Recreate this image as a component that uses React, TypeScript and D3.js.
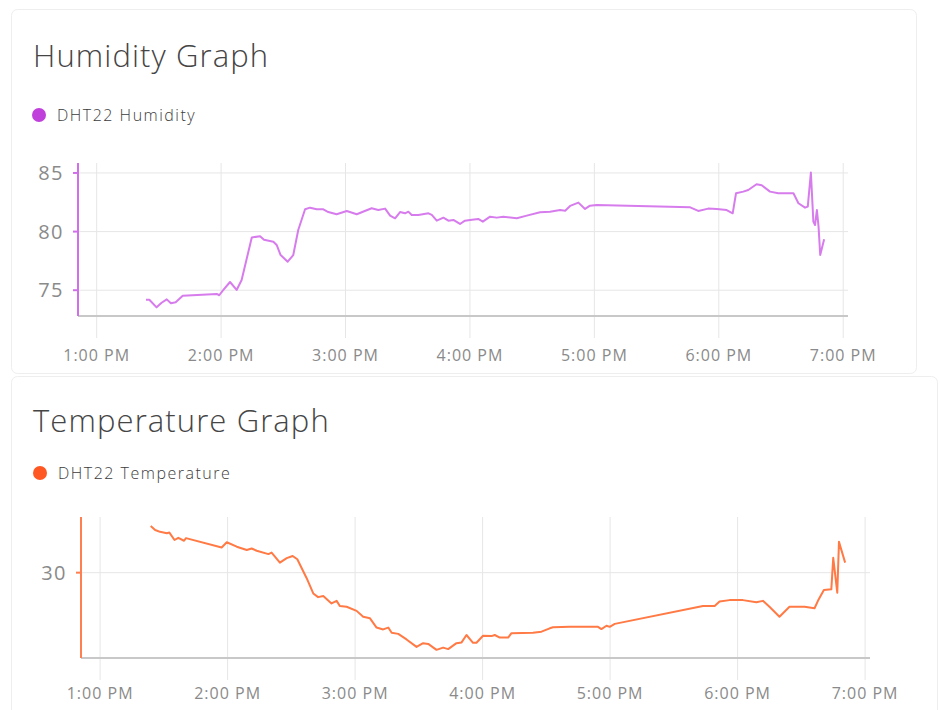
import React, { useRef, useEffect } from 'react';
import * as d3 from 'd3';

// minutes after 1:00 PM
const humidityMinutes = [23.8, 25.4, 28.9, 31.3, 33.8, 35.8, 38.1, 41.5, 57.9, 59.1, 61.1, 64.3, 67.5, 69.9, 74.8, 78.8, 80.7, 85.2, 86.8, 88.7, 92.1, 94.8, 97.2, 100.5, 102.9, 106.1, 109.3, 111.7, 115.7, 120.6, 125.4, 132.6, 135.8, 139.1, 141.5, 143.9, 146.3, 148.7, 150.3, 151.9, 155.1, 160.0, 161.6, 164.0, 167.2, 169.6, 172.0, 175.2, 177.6, 180.0, 184.0, 186.2, 189.7, 192.9, 196.1, 202.6, 207.4, 213.8, 218.6, 223.5, 225.9, 228.3, 232.3, 235.5, 237.9, 241.1, 286.2, 290.1, 294.9, 299.0, 303.8, 306.7, 308.3, 311.8, 314.2, 318.2, 320.7, 324.7, 328.7, 336.0, 338.4, 341.6, 342.9, 344.4, 345.6, 346.4, 347.3, 348.1, 348.9, 350.8];
const humidityValues = [74.19, 74.19, 73.54, 73.93, 74.22, 73.88, 73.97, 74.53, 74.68, 74.57, 75.02, 75.7, 75.02, 75.87, 79.5, 79.6, 79.3, 79.14, 78.86, 78.0, 77.43, 78.0, 80.14, 81.9, 82.04, 81.9, 81.9, 81.67, 81.48, 81.76, 81.48, 81.99, 81.84, 81.96, 81.36, 81.13, 81.67, 81.56, 81.7, 81.42, 81.42, 81.56, 81.42, 80.93, 81.19, 80.93, 80.99, 80.65, 80.93, 80.99, 81.08, 80.85, 81.27, 81.19, 81.27, 81.13, 81.36, 81.65, 81.7, 81.84, 81.78, 82.19, 82.47, 81.93, 82.21, 82.27, 82.07, 81.76, 81.96, 81.93, 81.84, 81.56, 83.27, 83.41, 83.55, 84.04, 83.95, 83.41, 83.27, 83.27, 82.42, 82.04, 82.13, 85.03, 80.85, 80.56, 81.84, 80.42, 78.0, 79.34];

const temperatureMinutes = [23.8, 25.9, 28.2, 31.4, 32.6, 35.0, 36.8, 39.5, 40.4, 57.2, 59.6, 64.3, 69.0, 71.3, 73.7, 79.2, 80.7, 84.6, 87.8, 90.6, 92.8, 97.2, 100.3, 102.6, 105.0, 108.9, 111.3, 112.8, 116.0, 120.7, 123.8, 127.0, 130.1, 133.2, 135.6, 137.2, 140.3, 144.2, 148.9, 152.0, 154.4, 158.3, 161.4, 163.8, 167.7, 170.1, 172.4, 175.5, 177.1, 180.2, 184.2, 185.7, 188.1, 192.0, 193.6, 203.7, 207.7, 211.6, 213.1, 221.0, 227.2, 234.3, 235.9, 238.3, 239.8, 242.2, 283.7, 289.2, 291.5, 296.2, 302.5, 308.8, 311.9, 315.0, 319.7, 324.4, 331.5, 336.2, 337.8, 340.6, 344.1, 345.0, 346.9, 347.7, 350.6];
const temperatureValues = [31.26, 31.15, 31.1, 31.06, 31.08, 30.88, 30.94, 30.86, 30.93, 30.68, 30.82, 30.7, 30.61, 30.65, 30.59, 30.5, 30.54, 30.27, 30.39, 30.45, 30.36, 29.85, 29.44, 29.34, 29.37, 29.17, 29.24, 29.1, 29.08, 28.97, 28.81, 28.77, 28.52, 28.47, 28.52, 28.38, 28.35, 28.2, 28.0, 28.1, 28.08, 27.92, 27.98, 27.94, 28.1, 28.12, 28.32, 28.11, 28.11, 28.3, 28.29, 28.32, 28.25, 28.25, 28.37, 28.38, 28.41, 28.5, 28.53, 28.54, 28.54, 28.54, 28.48, 28.57, 28.54, 28.62, 29.1, 29.1, 29.22, 29.26, 29.26, 29.2, 29.24, 29.08, 28.81, 29.08, 29.08, 29.04, 29.24, 29.53, 29.55, 30.4, 29.46, 30.83, 30.27];

const humidityTicks = [75, 80, 85];
const temperatureTicks = [30];
const timeDomainMinutes = [-9, 362.3];

const base = new Date(2020, 0, 1, 13, 0, 0);
const toDate = (m: number) => new Date(base.getTime() + m * 60000);

const FONT = "'Open Sans', 'Noto Sans', sans-serif";

type ChartOpts = {
  title: string;
  legend: string;
  dotColor: string;
  lineColor: string;
  axisColor: string;
  minutes: number[];
  values: number[];
  yTicks: number[];
  yDomain: [number, number];
  titleY: number;
  legendY: number;
  legendX: number;
  x0: number;
  x1: number;
  y0: number;
  y1: number;
  labelY: number;
};

function drawChart(root: any, o: ChartOpts) {
  const g = root.append('g');

  g.append('text')
    .attr('x', 33)
    .attr('y', o.titleY)
    .attr('font-family', FONT)
    .attr('font-size', 31)
    .attr('font-weight', 300)
    .attr('letter-spacing', 1.1)
    .attr('fill', '#454545')
    .text(o.title);

  g.append('circle').attr('cx', o.legendX).attr('cy', o.legendY).attr('r', 7).attr('fill', o.dotColor);
  g.append('text')
    .attr('x', o.legendX + 18)
    .attr('y', o.legendY + 6)
    .attr('font-family', FONT)
    .attr('font-size', 16)
    .attr('font-weight', 300)
    .attr('letter-spacing', 1.5)
    .attr('fill', '#3c3c3c')
    .text(o.legend);

  const x = d3.scaleTime()
    .domain(timeDomainMinutes.map(toDate) as [Date, Date])
    .range([o.x0, o.x1]);
  const y = d3.scaleLinear().domain(o.yDomain).range([o.y0, o.y1]);

  const hours = d3.timeHour.range(toDate(0), toDate(361));
  const fmt = d3.timeFormat('%-I:%M %p');

  // vertical grid + x tick marks
  g.selectAll('.vgrid')
    .data(hours)
    .enter().append('line')
    .attr('x1', d => x(d)).attr('x2', d => x(d))
    .attr('y1', o.y1).attr('y2', o.y0 + 22)
    .attr('stroke', '#e6e6e6').attr('stroke-width', 1);

  g.selectAll('.xlabel')
    .data(hours)
    .enter().append('text')
    .attr('x', d => x(d))
    .attr('y', o.labelY)
    .attr('text-anchor', 'middle')
    .attr('font-family', FONT)
    .attr('font-size', 16)
    .attr('letter-spacing', 1)
    .attr('fill', '#8a8a8a')
    .text(d => fmt(d));

  // horizontal grid
  g.selectAll('.hgrid')
    .data(o.yTicks)
    .enter().append('line')
    .attr('x1', o.x0).attr('x2', o.x1)
    .attr('y1', d => y(d)).attr('y2', d => y(d))
    .attr('stroke', '#e6e6e6').attr('stroke-width', 1);

  g.selectAll('.ytick')
    .data(o.yTicks)
    .enter().append('line')
    .attr('x1', o.x0 - 5).attr('x2', o.x0)
    .attr('y1', d => y(d)).attr('y2', d => y(d))
    .attr('stroke', o.axisColor).attr('stroke-width', 2);

  g.selectAll('.ylabel')
    .data(o.yTicks)
    .enter().append('text')
    .attr('x', o.x0 - 14)
    .attr('y', d => y(d) + 7)
    .attr('text-anchor', 'end')
    .attr('font-family', FONT)
    .attr('font-size', 20)
    .attr('letter-spacing', 1.5)
    .attr('fill', '#8a8a8a')
    .text(d => d);

  // x axis line
  g.append('line')
    .attr('x1', o.x0).attr('x2', o.x1)
    .attr('y1', o.y0).attr('y2', o.y0)
    .attr('stroke', '#c8c8c8').attr('stroke-width', 2);

  // y axis line
  g.append('line')
    .attr('x1', o.x0).attr('x2', o.x0)
    .attr('y1', o.y1).attr('y2', o.y0)
    .attr('stroke', o.axisColor).attr('stroke-width', 2);

  const line = d3.line<number>()
    .x((_, i) => x(toDate(o.minutes[i])))
    .y(d => y(d));

  g.append('path')
    .datum(o.values)
    .attr('d', line)
    .attr('fill', 'none')
    .attr('stroke', o.lineColor)
    .attr('stroke-width', 2)
    .attr('stroke-linejoin', 'round');
}

export default function App() {
  const svgRef = useRef<SVGSVGElement>(null);

  useEffect(() => {
    const svg = d3.select(svgRef.current);
    svg.selectAll('*').remove();
    const root = svg.append('g');

    // cards
    root.append('rect')
      .attr('x', 11.5).attr('y', 9.5).attr('width', 905).attr('height', 364).attr('rx', 6)
      .attr('fill', '#fff').attr('stroke', '#eeeeee');
    root.append('rect')
      .attr('x', 11.5).attr('y', 376.5).attr('width', 926).attr('height', 345).attr('rx', 6)
      .attr('fill', '#fff').attr('stroke', '#eeeeee');

    drawChart(root, {
      title: 'Humidity Graph',
      legend: 'DHT22 Humidity',
      dotColor: '#c040dc',
      lineColor: '#d77cec',
      axisColor: '#d070e8',
      minutes: humidityMinutes,
      values: humidityValues,
      yTicks: humidityTicks,
      yDomain: [72.8, 85.85],
      titleY: 67,
      legendX: 39,
      legendY: 115,
      x0: 78,
      x1: 848,
      y0: 316,
      y1: 163,
      labelY: 361,
    });

    drawChart(root, {
      title: 'Temperature Graph',
      legend: 'DHT22 Temperature',
      dotColor: '#ff5722',
      lineColor: '#ff7a45',
      axisColor: '#ff7f50',
      minutes: temperatureMinutes,
      values: temperatureValues,
      yTicks: temperatureTicks,
      yDomain: [27.7, 31.5],
      titleY: 432,
      legendX: 40,
      legendY: 473,
      x0: 81,
      x1: 870,
      y0: 658,
      y1: 517,
      labelY: 699,
    });
  }, []);

  return (
    <svg
      ref={svgRef}
      width={940}
      height={710}
      style={{ position: 'fixed', left: 0, top: 0, background: '#fff' }}
    />
  );
}
